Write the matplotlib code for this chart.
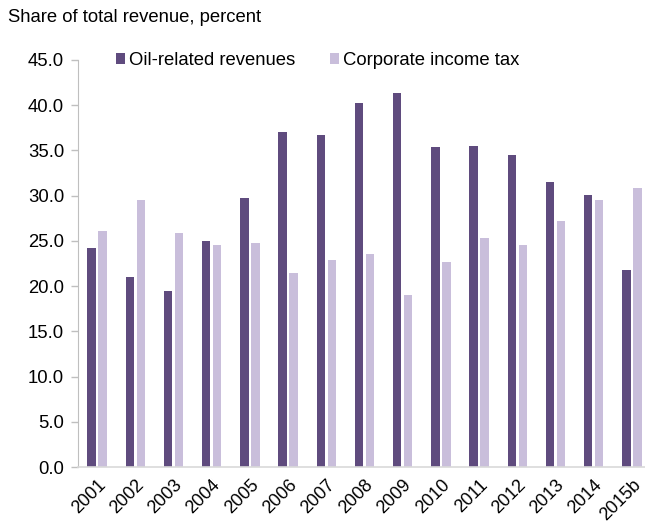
import numpy as np
import matplotlib.pyplot as plt

plt.rcParams['font.family'] = ['Liberation Sans', 'DejaVu Sans']

# ------------------------------------------------------------
# Data
# ------------------------------------------------------------
years = ['2001', '2002', '2003', '2004', '2005', '2006', '2007', '2008',
         '2009', '2010', '2011', '2012', '2013', '2014', '2015b']
oil_revenue = [24.2, 21.0, 19.5, 25.0, 29.7, 37.0, 36.7, 40.2,
               41.3, 35.4, 35.5, 34.5, 31.5, 30.1, 21.8]
corp_tax = [26.1, 29.5, 25.9, 24.5, 24.8, 21.4, 22.9, 23.6,
            19.0, 22.7, 25.3, 24.6, 27.2, 29.5, 30.8]

dark = '#5f4b7e'
light = '#c9bedb'
axis_grey = '#bfbfbf'
fs = 13.3

fig = plt.figure(figsize=(6.45, 5.25), dpi=100)
# axes spans pixel x 78..651, y 60..467
ax = fig.add_axes([78 / 645, 58 / 525, 573 / 645, 407 / 525])

x = np.arange(len(years))
w = 0.22
off = 0.145
ax.bar(x - off, oil_revenue, w, color=dark, label='Oil-related revenues')
ax.bar(x + off, corp_tax, w, color=light, label='Corporate income tax')

ax.set_xlim(-0.5, len(years) - 0.5)
ax.set_ylim(0, 45)
ax.set_yticks(np.arange(0, 45.1, 5))
ax.set_yticklabels([f'{v:.1f}' for v in np.arange(0, 45.1, 5)], fontsize=fs)

ax.set_xticks(x)
ax.set_xticklabels(years, fontsize=13, rotation=45, ha='right',
                   rotation_mode='anchor')
ax.tick_params(axis='x', length=0, pad=7)
ax.tick_params(axis='y', length=5, color=axis_grey, width=1, pad=5)

for side in ['top', 'right']:
    ax.spines[side].set_visible(False)
ax.spines['left'].set_color(axis_grey)
ax.spines['bottom'].set_color('#d9d9d9')
ax.spines['bottom'].set_linewidth(1.2)

ax.legend(loc='upper left', bbox_to_anchor=(0.037, 1.06), ncol=2,
          frameon=False, fontsize=fs, handlelength=0.5, handleheight=0.5,
          handletextpad=0.22, columnspacing=1.85)

fig.text(8 / 645, 1 - 18 / 525, 'Share of total revenue, percent',
         fontsize=fs, va='center', ha='left')

fig.savefig('out.png', dpi=100)
